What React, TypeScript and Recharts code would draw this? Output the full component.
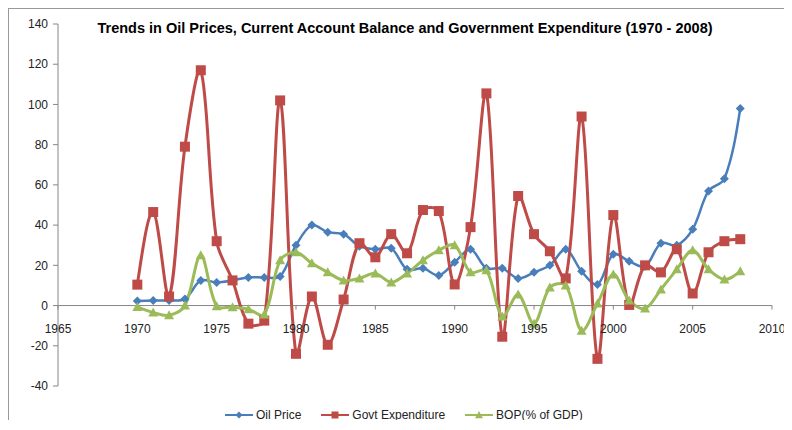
import React from "react";
import { Line, LineChart, ReferenceLine, XAxis, YAxis } from "recharts";

// values, one per year 1970 - 2008
const years = [
  1970, 1971, 1972, 1973, 1974, 1975, 1976, 1977, 1978, 1979,
  1980, 1981, 1982, 1983, 1984, 1985, 1986, 1987, 1988, 1989,
  1990, 1991, 1992, 1993, 1994, 1995, 1996, 1997, 1998, 1999,
  2000, 2001, 2002, 2003, 2004, 2005, 2006, 2007, 2008,
];

const oilPrice = [
  2.3, 2.5, 2.5, 3.3, 12.5, 11.5, 12.5, 14, 14, 14.5,
  30, 40, 36.5, 35.5, 29.5, 28, 28.5, 18, 18.5, 15,
  21.5, 28, 18.5, 18.5, 13.5, 16.5, 20, 28, 17, 10.5,
  25.5, 22, 19.5, 31, 30, 38, 57, 63, 98,
];

const govtExpenditure = [
  10.4, 46.5, 4.5, 79, 117, 32, 12.5, -9, -7.5, 102,
  -24, 4.5, -19.5, 3, 31, 24, 35.5, 26, 47.5, 47,
  10.5, 39, 105.5, -15.5, 54.5, 35.5, 27, 13.5, 94, -26.5,
  45, 0.3, 20, 16.5, 28, 6, 26.5, 32, 33,
];

const bopPctGdp = [
  -0.7, -3.5, -4.8, 0, 25, -0.3, -0.8, -1.8, -4.5, 22.5,
  26.5, 21, 16.5, 12.5, 13.5, 16, 11.5, 16, 22.5, 27.5,
  30, 16.5, 17.5, -5.5, 5.5, -9, 9, 10, -12.5, 1,
  15.5, 2.5, -1.5, 8, 18, 27.5, 18, 13, 17,
];

const yTicks = [-40, -20, 0, 20, 40, 60, 80, 100, 120, 140];
const xTicks = [1965, 1970, 1975, 1980, 1985, 1990, 1995, 2000, 2005, 2010];

const BLUE = "#4A7EBB";
const RED = "#BE4B48";
const GREEN = "#9BBB59";
const AXIS = "#868686";

const data = years.map((year, i) => ({
  year,
  oil: oilPrice[i],
  govt: govtExpenditure[i],
  bop: bopPctGdp[i],
}));

// excel-like smoothed line: tangents scaled by neighbouring segment lengths
const smoothCurve = (context: any) => {
  let pts: number[][] = [];
  return {
    areaStart() {},
    areaEnd() {},
    lineStart() {
      pts = [];
    },
    point(x: number, y: number) {
      pts.push([x, y]);
    },
    lineEnd() {
      if (!pts.length) return;
      const n = pts.length;
      const dist = (a: number[], b: number[]) => Math.hypot(b[0] - a[0], b[1] - a[1]);
      // out / in control points for each point
      const outC: number[][] = [];
      const inC: number[][] = [];
      for (let i = 0; i < n; i++) {
        const p = pts[i];
        if (i === 0 || i === n - 1) {
          outC[i] = p;
          inC[i] = p;
          continue;
        }
        const a = pts[i - 1];
        const b = pts[i + 1];
        const d0 = dist(a, p);
        const d1 = dist(p, b);
        const s = d0 + d1 || 1;
        const tx = b[0] - a[0];
        const ty = b[1] - a[1];
        const f = 1 / 3;
        outC[i] = [p[0] + tx * (d1 / s) * f, p[1] + ty * (d1 / s) * f];
        inC[i] = [p[0] - tx * (d0 / s) * f, p[1] - ty * (d0 / s) * f];
      }
      context.moveTo(pts[0][0], pts[0][1]);
      for (let i = 0; i < n - 1; i++) {
        const c1 = i === 0 ? [pts[0][0] + (inC[1][0] - pts[0][0]) / 2, pts[0][1] + (inC[1][1] - pts[0][1]) / 2] : outC[i];
        const c2 =
          i + 1 === n - 1
            ? [pts[n - 1][0] + (outC[n - 2][0] - pts[n - 1][0]) / 2, pts[n - 1][1] + (outC[n - 2][1] - pts[n - 1][1]) / 2]
            : inC[i + 1];
        context.bezierCurveTo(c1[0], c1[1], c2[0], c2[1], pts[i + 1][0], pts[i + 1][1]);
      }
    },
  };
};

const diamond = (cx: number, cy: number, r: number) =>
  `M${cx},${cy - r}L${cx + r},${cy}L${cx},${cy + r}L${cx - r},${cy}Z`;
const square = (cx: number, cy: number, r: number) =>
  `M${cx - r},${cy - r}h${2 * r}v${2 * r}h${-2 * r}Z`;
const triangle = (cx: number, cy: number, r: number) =>
  `M${cx},${cy - r}L${cx + r},${cy + r * 0.8}L${cx - r},${cy + r * 0.8}Z`;

const makeDot = (shape: (cx: number, cy: number, r: number) => string, r: number, color: string) =>
  (props: any) => (
    <path key={props.index} d={shape(props.cx, props.cy, r)} fill={color} stroke="none" />
  );

const LegendItem = ({ color, shape, r, label }: { color: string; shape: any; r: number; label: string }) => (
  <div style={{ display: "flex", alignItems: "center", marginRight: 20 }}>
    <svg width={28} height={14}>
      <line x1={0} y1={7} x2={28} y2={7} stroke={color} strokeWidth={2} />
      <path d={shape(14, 7, r)} fill={color} />
    </svg>
    <span style={{ marginLeft: 3 }}>{label}</span>
  </div>
);

const App: React.FC = () => {
  return (
    <div
      style={{
        position: "relative",
        width: 784,
        height: 412,
        boxSizing: "border-box",
        borderTop: "1px solid #999",
        borderLeft: "1px solid #999",
        fontFamily: "'Liberation Sans', Arial, sans-serif",
        background: "#fff",
      }}
    >
      <div
        style={{
          position: "absolute",
          left: 86,
          top: 11,
          width: 620,
          textAlign: "center",
          whiteSpace: "nowrap",
          fontWeight: "bold",
          fontSize: 14.5,
          color: "#000",
        }}
      >
        Trends in Oil Prices, Current Account Balance and Government Expenditure (1970 - 2008)
      </div>

      <LineChart
        width={783}
        height={411}
        data={data}
        margin={{ top: 15, right: 20, bottom: 34, left: 0 }}
      >
        <XAxis dataKey="year" type="number" domain={[1965, 2010]} ticks={xTicks} hide />
        <YAxis
          type="number"
          domain={[-40, 140]}
          ticks={yTicks}
          width={49}
          tickSize={5}
          tickMargin={5}
          axisLine={{ stroke: AXIS }}
          tickLine={{ stroke: AXIS }}
          tick={{ fill: "#222", fontSize: 12 }}
        />
        <ReferenceLine y={0} stroke={AXIS} />
        {xTicks.map((t) => (
          <ReferenceLine
            key={t}
            segment={[
              { x: t, y: 0 },
              { x: t, y: -2 },
            ]}
            stroke={AXIS}
            label={{ value: String(t), position: "bottom", offset: 15, fill: "#222", fontSize: 12 }}
          />
        ))}
        <Line
          dataKey="oil"
          name="Oil Price"
          type={smoothCurve as any}
          stroke={BLUE}
          strokeWidth={2.5}
          dot={makeDot(diamond, 4.5, BLUE)}
          isAnimationActive={false}
        />
        <Line
          dataKey="govt"
          name="Govt Expenditure"
          type={smoothCurve as any}
          stroke={RED}
          strokeWidth={3}
          dot={makeDot(square, 5, RED)}
          isAnimationActive={false}
        />
        <Line
          dataKey="bop"
          name="BOP(% of GDP)"
          type={smoothCurve as any}
          stroke={GREEN}
          strokeWidth={3}
          dot={makeDot(triangle, 5, GREEN)}
          isAnimationActive={false}
        />
      </LineChart>

      <div
        style={{
          position: "absolute",
          left: 216,
          top: 399,
          display: "flex",
          fontSize: 12,
          color: "#222",
        }}
      >
        <LegendItem color={BLUE} shape={diamond} r={3.5} label="Oil Price" />
        <LegendItem color={RED} shape={square} r={3.5} label="Govt Expenditure" />
        <LegendItem color={GREEN} shape={triangle} r={4} label="BOP(% of GDP)" />
      </div>
    </div>
  );
};

export default App;
